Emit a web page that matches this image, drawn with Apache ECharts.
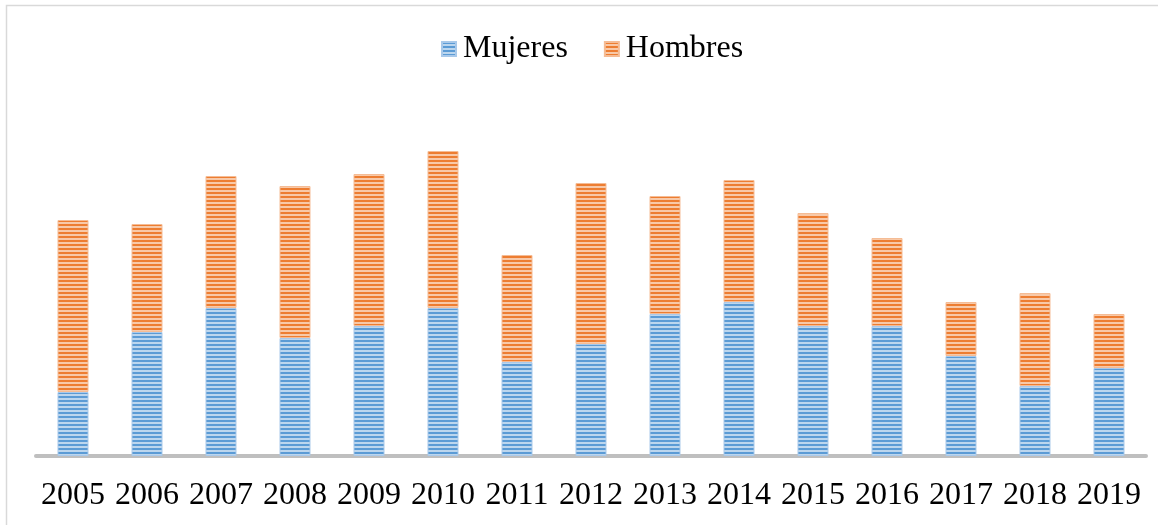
<!DOCTYPE html>
<html><head><meta charset="utf-8">
<script src="https://cdn.jsdelivr.net/npm/echarts@6/dist/echarts.min.js"></script>
<style>html,body{margin:0;padding:0;background:#fff}#c{width:1158px;height:525px}</style>
</head><body><div id="c"></div>
<script>
const years = ['2005','2006','2007','2008','2009','2010','2011','2012','2013','2014','2015','2016','2017','2018','2019'];
const mujeres = [64,124,148,118,130,148,94,112,142,154,130,130,100,70,88];
const hombres = [172,108,132,152,152,157,107,161,118,122,113,88,54,93,54];

function stripe(dark, light){
  const c = document.createElement('canvas');
  c.width = 4; c.height = 4;
  const g = c.getContext('2d');
  g.fillStyle = light; g.fillRect(0,0,4,4);
  g.fillStyle = dark; g.fillRect(0,0,4,2);
  return {image: c, repeat: 'repeat'};
}
const blueP = stripe('#5B9BD5', '#BCD6EE');
const orangeP = stripe('#ED7D31', '#F8C9A8');

const chart = echarts.init(document.getElementById('c'), null, {renderer:'canvas'});
chart.setOption({
  animation:false,
  backgroundColor:'#fff',
  graphic:[{type:'polyline', shape:{points:[[6.5,530],[6.5,5.5],[1160,5.5]]}, style:{fill:'none', stroke:'#D9D9D9', lineWidth:1.5}}],
  legend:{
    top:28, left:436, icon:'rect', itemWidth:14, itemHeight:14, itemGap:36,
    textStyle:{fontFamily:'Liberation Serif', fontSize:32, color:'#000', padding:[0,0,0,2]},
    data:[{name:'Mujeres', itemStyle:{color:blueP}},{name:'Hombres', itemStyle:{color:orangeP}}]
  },
  grid:{left:36, right:12, top:56, bottom:69},
  xAxis:{type:'category', data:years, offset:2,
    axisLine:{lineStyle:{color:'#BFBFBF', width:4}}, axisTick:{show:false},
    axisLabel:{interval:0, fontFamily:'Liberation Serif', fontSize:32, color:'#000', margin:22}},
  yAxis:{type:'value', min:0, max:400, show:false, splitLine:{show:false}},
  series:[
    {name:'Mujeres', type:'bar', stack:'a', barWidth:31, data:mujeres,
      itemStyle:{color:blueP, borderColor:'#A9C9EA', borderWidth:1}},
    {name:'Hombres', type:'bar', stack:'a', barWidth:31, data:hombres,
      itemStyle:{color:orangeP, borderColor:'#F5BC95', borderWidth:1}}
  ]
});
</script></body></html>
